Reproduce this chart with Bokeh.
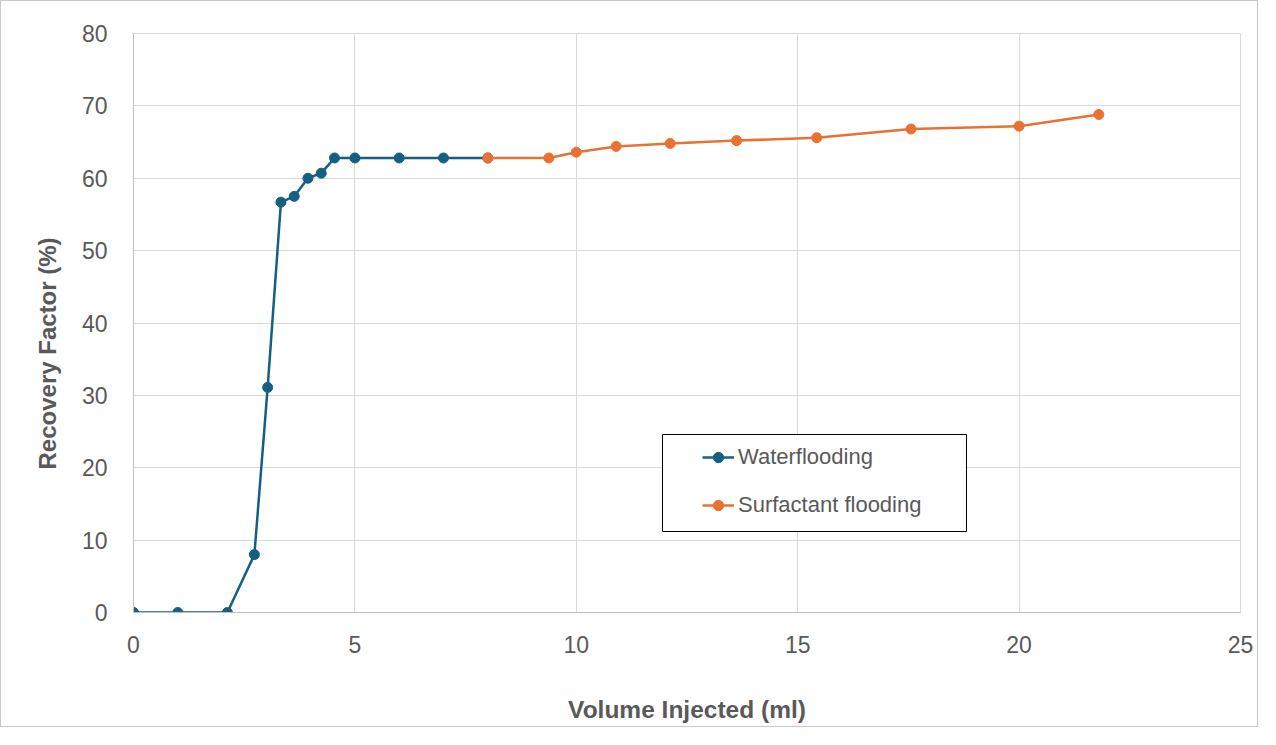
from bokeh.plotting import figure
from bokeh.models import (Range1d, SingleIntervalTicker, Legend, LegendItem,
                          BoxAnnotation, Title)
from bokeh.embed import file_html
from bokeh.resources import INLINE

# ---- data ----
water_x = [0, 1.0, 2.12, 2.73, 3.03, 3.33, 3.63, 3.94, 4.24, 4.54, 5.0, 6.0, 7.0, 8.0]
water_y = [0, 0, 0, 8.0, 31.1, 56.7, 57.5, 60.0, 60.7, 62.8, 62.8, 62.8, 62.8, 62.8]
surf_x = [8.0, 9.38, 10.0, 10.9, 12.12, 13.62, 15.43, 17.56, 20.0, 21.8]
surf_y = [62.8, 62.8, 63.6, 64.4, 64.8, 65.2, 65.6, 66.8, 67.2, 68.8]
series_names = ["Waterflooding", "Surfactant flooding"]
x_title = "Volume Injected (ml)"
y_title = "Recovery Factor (%)"

BLUE = "#156082"
ORANGE = "#E97132"
TEXT = "#595959"
GRID = "#d9d9d9"
FONT = "Liberation Sans"

p = figure(width=1258, height=727, output_backend="svg", toolbar_location=None,
           x_range=Range1d(0, 25), y_range=Range1d(0, 80),
           min_border_left=132, min_border_right=19, min_border_top=32,
           min_border_bottom=116)
p.styles = {"border": "1px solid #c8c8c8"}
p.outline_line_color = GRID
p.background_fill_color = "white"
p.border_fill_color = "white"

p.xaxis.ticker = SingleIntervalTicker(interval=5)
p.yaxis.ticker = SingleIntervalTicker(interval=10)
for ax in (p.xaxis, p.yaxis):
    ax.major_tick_line_color = None
    ax.minor_tick_line_color = None
    ax.major_tick_out = 0
    ax.major_tick_in = 0
    ax.axis_line_color = "#bfbfbf"
    ax.major_label_text_font = FONT
    ax.major_label_text_font_size = "23px"
    ax.major_label_text_color = TEXT
p.yaxis.major_label_standoff = 22
p.xaxis.major_label_standoff = 19
p.xaxis.axis_label = x_title
p.xaxis.axis_label_text_font = FONT
p.xaxis.axis_label_text_font_size = "24.5px"
p.xaxis.axis_label_text_font_style = "bold"
p.xaxis.axis_label_text_color = TEXT
p.xaxis.axis_label_standoff = 40

p.xgrid.grid_line_color = GRID
p.ygrid.grid_line_color = GRID

r1 = p.line(water_x, water_y, line_color=BLUE, line_width=2.5)
c1 = p.scatter(water_x, water_y, size=10, fill_color=BLUE, line_color=BLUE)
r2 = p.line(surf_x, surf_y, line_color=ORANGE, line_width=2.5)
c2 = p.scatter(surf_x, surf_y, size=10, fill_color=ORANGE, line_color=ORANGE)

ytitle = Title(text=y_title, align="left", offset=143, standoff=32,
               vertical_align="top",
               text_font=FONT, text_font_size="24px", text_font_style="bold",
               text_color=TEXT)
p.add_layout(ytitle, "left")

box = BoxAnnotation(left=660, right=964, top=432, bottom=529,
                    left_units="canvas", right_units="canvas",
                    top_units="canvas", bottom_units="canvas",
                    fill_color="white", fill_alpha=1.0,
                    line_color="black", line_width=1, line_alpha=1.0)
p.add_layout(box)

legend = Legend(items=[LegendItem(label=series_names[0], renderers=[r1, c1]),
                       LegendItem(label=series_names[1], renderers=[r2, c2])],
                location=(569, 94), orientation="vertical",
                padding=11, spacing=22, margin=0,
                glyph_width=32, glyph_height=26, label_height=26,
                label_standoff=4,
                label_text_font=FONT, label_text_font_size="22px",
                label_text_color=TEXT,
                border_line_color=None, background_fill_alpha=0)
p.add_layout(legend, "center")

open("out.html", "w").write(file_html(p, INLINE))
